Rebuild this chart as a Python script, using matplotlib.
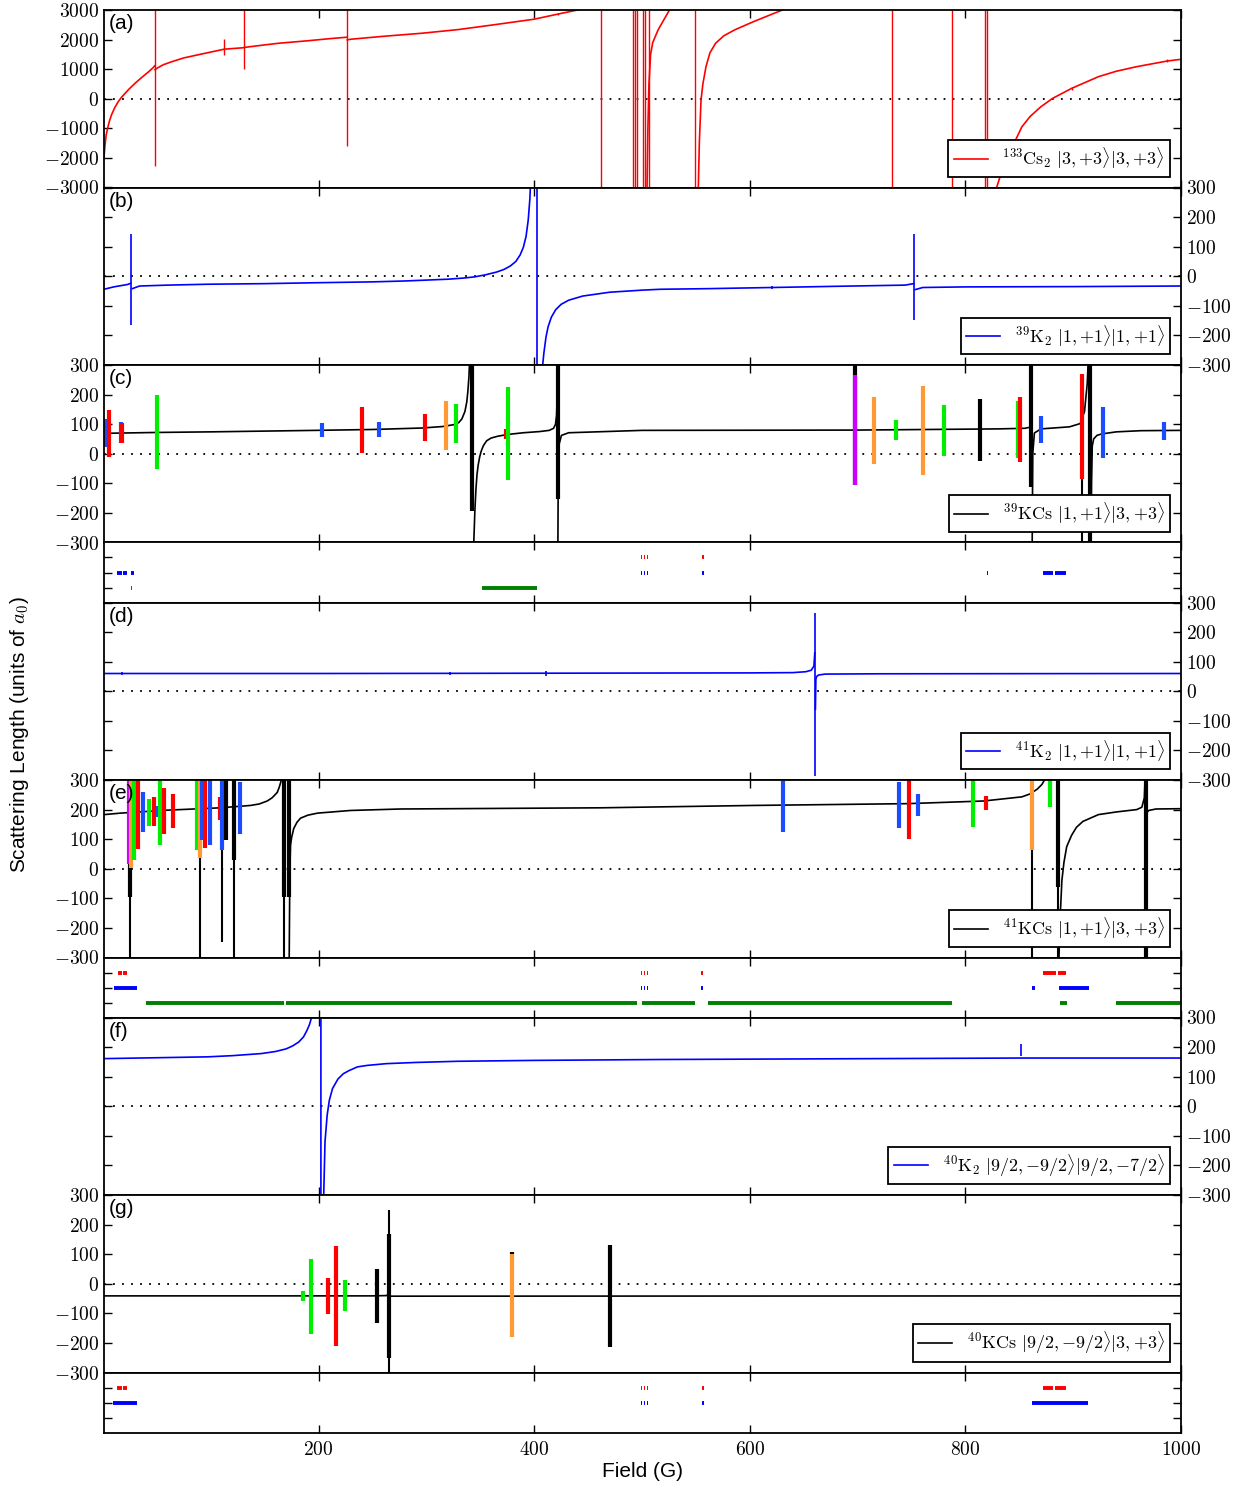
import numpy as np
import matplotlib
matplotlib.use("Agg")
import matplotlib.pyplot as plt
from matplotlib.ticker import FuncFormatter

plt.rcParams['font.family'] = ['Liberation Sans', 'DejaVu Sans']
plt.rcParams['mathtext.fontset'] = 'cm'
nan = np.nan

# %% Data (field in G, scattering length in a0)
# (a) 133Cs2
cs2_field = [1, 2, 3, 4.3, 6, 8, 11, 14, 17, 20, 24, 30, 36, 42, 46.8, 47.9,
             nan, 48.3, 50, 56, 64, 75, 90, 111.9, 112.3, 130.6, 131.2, 150, 163, 190, 210, 226.2,
             nan, 226.7, 229.7, 260, 296, 330, 362, 400, 421.8, 441, 450,
             nan, 504.5, 505.5, 506.5, 508, 510, 515, 520, 525.6, 530,
             nan, 552.3, 553.2, 554.8, 556.5, 559.4, 563, 568.3, 576, 586, 603.7, 620, 632.2, 640,
             nan, 829, 835, 843.5, 852.4, 860, 870, 880.8, 898.5, 923.4, 940, 959, 987.4, 1000]
cs2_a = [-1966, -1550, -1230, -1006, -760, -540, -300, -110, 40, 160, 320, 530, 720, 900, 1060, 1110,
         nan, 980, 1028, 1150, 1254, 1380, 1500, 1670, 1675, 1725, 1735, 1820, 1876, 1960, 2030, 2080,
         nan, 1990, 2011, 2110, 2215, 2340, 2497, 2689, 2860, 3006, 3100,
         nan, -3500, -1000, 500, 1500, 1900, 2330, 2650, 3006, 3300,
         nan, -3000, -1500, -45, 500, 1085, 1550, 1876, 2130, 2328, 2610, 2850, 3028, 3120,
         nan, -3000, -2300, -1627, -949, -600, -271, 11, 350, 746, 930, 1085, 1277, 1333]
cs2_spike_field = [48.1, 112.1, 131.0, 226.4, 421.8, 461.7, 491.9, 493.7, 495.5, 500.8, 502.5,
                   506.1, 548.8, 732.3, 787.7, 818.6, 820.4, 898.5, 987.4]
cs2_spike_lo = [-2271, 1480, 1006, -1605, 2830, -3000, -3000, -3000, -3000, -3000, -3000,
                -3000, -3000, -3000, -3000, -3000, -3000, 300, 1240]
cs2_spike_hi = [3000, 2011, 3000, 3000, 2900, 3000, 3000, 3000, 3000, 3000, 3000,
                3000, 3000, 3000, 3000, 3000, 3000, 400, 1330]

# (b) 39K2
k39_field = [1, 10, 22.6, 25.8, nan, 27.2, 34, 60, 97, 150, 196, 250, 280, 300, 320, 335, 345, 355,
             365, 372, 378, 383, 387, 390, 392.5, 394.5, 396, 397,
             nan, 406, 407.9, 409, 411, 413, 416, 420, 425, 432, 445, 470, 500, 517, 560, 621, 680,
             744, 752, nan, 753.6, 760.5, 800, 900, 1000]
k39_a = [-44, -36, -28, -24, nan, -42, -33, -30, -27, -25, -22, -19, -16, -13, -10, -6, -2, 5,
         14, 23, 35, 50, 72, 98, 135, 190, 260, 340,
         nan, -400, -300, -260, -205, -170, -138, -113, -95, -81, -67, -54, -47, -44, -42, -38, -34,
         -30, -25, nan, -45, -38, -36, -35, -33]
k39_spike_field = [26.5, 402.7, 752.8, 621]
k39_spike_lo = [-165, -300, -148, -42]
k39_spike_hi = [142, 300, 142, -34]

# (c) 39KCs
k39cs_field = [1, 50, 100, 196.6, 250, 296, 315, 325, 330, 333, 335.8, 337.5, 338.5, 339.5, 340.3, 341,
               nan, 343.2, 344, 345, 346, 347, 348, 349.5, 351, 353, 356, 360, 366, 375, 390, 405, 414,
               418, 419.8, 420.8, 421.4,
               nan, 421.9, 422.3, 423, 425.3, 432, 500, 697.7, 830, 855, 860.5,
               nan, 861.8, 862.5, 864, 870, 896.6, 906.5, 910.5, 913, 914,
               nan, 916.3, 917, 917.7, 919, 922, 926.4, 940, 963, 1000]
k39cs_a = [69, 72, 74, 79, 82, 87, 92, 98, 105, 118, 143, 175, 210, 260, 330, 500,
           nan, -400, -300, -194, -120, -70, -40, -10, 10, 28, 44, 53, 59, 65, 71, 75, 79,
           86, 100, 130, 200,
           nan, -400, -100, 30, 62, 71, 79, 80, 84, 86, 90,
           nan, -400, 0, 70, 84, 91, 102, 143, 236, 320,
           nan, -400, -100, 27, 50, 62, 67, 74, 78, 79]
k39cs_bar_field = [2.3, 6, 16.6, 18, 49.7, 203, 240.6, 256, 298.6, 318.5, 327.5, 342.4, 374, 375.4,
                   421.8, 697.7, 697.7, 715.3, 735.5, 760.6, 780, 813.7, 848.5, 850.5, 861.2, 870,
                   908, 915.8, 927.4, 984.4]
k39cs_bar_lo = [24, -10, 35, 38, -52, 56, 3, 58, 42, 13, 38, -194, 50, -90,
                -153, -107, -107, -35, 47, -72, -8, -26, -14, -29, -113, 38,
                -87, -310, -15, 48]
k39cs_bar_hi = [116, 149, 108, 105, 199, 105, 158, 108, 134, 178, 169, 310, 85, 227,
                310, 310, 265, 193, 114, 230, 166, 184, 178, 192, 310, 126,
                271, 310, 157, 108]
k39cs_bar_kind = ['b', 'r', 'b', 'r', 'g', 'b', 'r', 'b', 'r', 'o', 'g', 'k', 'r', 'g',
                  'k', 'k', 'm', 'o', 'g', 'o', 'g', 'k', 'g', 'r', 'k', 'b',
                  'r', 'k', 'b', 'b']
k39cs_thin_field = [908]
k39cs_thin_lo = [-310]
k39cs_thin_hi = [-87]

# strip under (c): rows red / blue / green, (start, end) in G
k39cs_red = [(499, 500), (502, 503), (505, 506), (556, 558)]
k39cs_blue = [(13.5, 18), (18.8, 22.5), (26, 28.5), (48.2, 48.7), (499, 500), (502, 503), (505, 506),
              (556, 558), (820, 820.6), (872.4, 881), (883.5, 893.3)]
k39cs_green = [(26, 26.6), (352, 402.7), (752.2, 752.8)]

# (d) 41K2
k41_field = [1, 100, 200, 322, 411, 500, 600, 640, 652, 657, 659.5, 660.3,
             nan, 660.9, 661.3, 662, 664, 670, 720, 858, 1000]
k41_a = [60, 60, 60, 60.5, 61, 61.5, 62, 63, 66, 71, 85, 130,
         nan, -60, 40, 50, 55, 58, 59, 59.5, 60]
k41_spike_field = [660.6, 18, 322, 411, 719, 858.5]
k41_spike_lo = [-287, 55, 56, 52, 57, 57]
k41_spike_hi = [265, 65, 64, 70, 63, 63]

# (e) 41KCs
k41cs_field = [1, 16.2, 59.6, 109, 137, 145, 152.4, 157, 161.7, 163.5, 165.4, 167,
               nan, 172.6, 173.2, 173.6, 174, 175, 177, 180, 183.3, 190, 199, 229.7, 276, 461.7,
               603.7, 745.7, 816.9, 852.4, 860, 866.6, 871, 874, 876,
               nan, 886, 887.9, 889.5, 891.4, 894, 898.5, 903, 909, 923.4, 940, 959, 963.7, 966, 966.8,
               nan, 967.5, 968.5, 970, 976.8, 1000]
k41cs_a = [183, 188, 198, 206, 214, 219, 229, 240, 258, 275, 298, 360,
           nan, -400, -100, 20, 79, 105, 136, 157, 171, 181, 188, 197, 202, 206,
           214, 220, 229, 243, 253, 269, 285, 304, 400,
           nan, -400, -164, -40, 21, 75, 113, 140, 160, 183, 192, 200, 208, 240, 320,
           nan, 150, 190, 197, 202, 203]
k41cs_bar_field = [25, 24.3, 26.2, 28.6, 32.7, 37, 43.2, 47.5, 50.9, 53.4, 56.6, 65.1,
                   87.4, 90.5, 91.7, 94.5, 99, 109, 110.3, 114, 121.4, 127, 168.4, 172.4,
                   630.5, 738, 747.6, 755.8, 807, 819, 862, 878.4, 885.5, 967.2]
k41cs_bar_lo = [-95, 17, 3, 30, 67, 125, 146, 146, 176, 81, 119, 139,
                64, 38, 96, 69, 79, 165, 65, 98, 30, 119, -95, -95,
                125, 139, 102, 177, 141, 198, 64, 209, -60, -310]
k41cs_bar_hi = [17, 310, 310, 310, 310, 258, 237, 243, 212, 310, 272, 254,
                310, 310, 310, 310, 310, 243, 310, 310, 310, 292, 310, 310,
                298, 292, 310, 254, 300, 246, 310, 310, 310, 310]
k41cs_bar_kind = ['k', 'm', 'o', 'g', 'r', 'b', 'g', 'r', 'b', 'g', 'r', 'r',
                  'g', 'o', 'b', 'r', 'b', 'r', 'b', 'k', 'k', 'b', 'k', 'k',
                  'b', 'b', 'r', 'b', 'g', 'r', 'o', 'g', 'k', 'k']
k41cs_thin_field = [25, 90.5, 110.3, 121.4, 168.4, 862, 885.5]
k41cs_thin_lo = [-310, -310, -248, -310, -310, -310, -310]
k41cs_thin_hi = [-95, 38, 65, 30, -95, 64, -60]

k41cs_red = [(14, 17.5), (18.8, 22.7), (48.8, 49.3), (499, 500), (502, 503), (505, 506), (555, 557),
             (819.6, 820.1), (872, 884), (885.5, 893.3)]
k41cs_blue = [(10.7, 31.7), (48.8, 49.3), (499, 500), (502, 503), (505, 506), (555, 557),
              (819.8, 820.3), (862, 865), (887.2, 914.5)]
k41cs_green = [(39.5, 167.5), (170, 495.5), (500, 548.8), (561.2, 787.7), (820.7, 821.3),
               (888, 894.3), (939.4, 1000)]

# (f) 40K2
k40_field = [1, 50, 97, 120, 146.8, 160, 170, 176, 181.6, 186, 189.2, 191.5, 193.2, 195, 202.1, 202.3,
             203.5, 204.8, 206, 208, 210, 213, 218, 223, 228, 236, 245, 262.8, 290, 329, 400, 517,
             851, 1000]
k40_a = [161, 164, 167, 171, 178, 185, 194, 204, 217, 234, 256, 275, 296, 340, 5000, -5000,
         -600, -300, -120, -30, 20, 60, 92, 110, 120, 133, 138, 144, 148, 152, 155, 158,
         163, 163]
k40_spike_field = [851.5]
k40_spike_lo = [170]
k40_spike_hi = [210]

# (g) 40KCs
k40cs_field = [1, 250, 263, 264.5, 265.5, 267, 1000]
k40cs_a = [-41, -41, -40, -36, -45, -42, -41]
k40cs_bar_field = [186, 192.6, 208.8, 216.4, 225, 254.6, 264.9, 379.9, 379.9, 470.6]
k40cs_bar_lo = [-58, -169, -101, -212, -93, -133, -250, 100, -179, -214]
k40cs_bar_hi = [-23, 85, 19, 129, 12, 50, 169, 107, 100, 131]
k40cs_bar_kind = ['g', 'g', 'r', 'r', 'g', 'k', 'k', 'k', 'o', 'k']
k40cs_thin_field = [264.9]
k40cs_thin_lo = [-310]
k40cs_thin_hi = [248]

k40cs_red = [(13.5, 17.5), (18.5, 22.5), (48.2, 48.7), (499, 500), (502, 503), (505, 506),
             (556, 557.5), (820, 820.5), (872.4, 881), (883.5, 893.3)]
k40cs_blue = [(9.3, 31.5), (48.2, 48.7), (499, 500), (502, 503), (505, 506), (555.5, 558),
              (820, 820.5), (861.7, 914)]

# %% Styles
bar_colors = {'b': '#1a4dff', 'r': '#ff0000', 'g': '#00ee00', 'o': '#ff9933',
              'm': '#cc00ff', 'k': 'black'}
W, H = 1247, 1485
left_px, right_px = 104, 1181


def make_ax(fig, top, height):
    ax = fig.add_axes([left_px / W, 1 - (top + height) / H, (right_px - left_px) / W, height / H])
    ax.set_xlim(1, 1000)
    ax.set_xticks([200, 400, 600, 800, 1000])
    ax.tick_params(direction='in', top=True, right=True, length=6, width=1,
                   labelbottom=False, labelsize=14)
    for s in ax.spines.values():
        s.set_linewidth(1.3)
    return ax


def setup_panel(ax, label, side, big=False):
    if big:
        ax.set_ylim(-3000, 3000)
        ax.set_yticks(range(-3000, 3001, 1000))
    else:
        ax.set_ylim(-300, 300)
        ax.set_yticks(range(-300, 301, 100))
    ax.yaxis.set_major_formatter(FuncFormatter(lambda v, p: r'$%d$' % v))
    if side == 'right':
        ax.tick_params(labelleft=False, labelright=True)
    ax.axhline(0, color='black', lw=1.3, ls=(0, (1, 4)), zorder=1)
    ax.text(0.004, 0.975, label, transform=ax.transAxes, ha='left', va='top', fontsize=15)


def add_legend(ax):
    leg = ax.legend(loc='lower right', fancybox=False, edgecolor='black', framealpha=1,
                    fontsize=13, handlelength=1.9, borderaxespad=0.6, borderpad=0.3)
    leg.get_frame().set_linewidth(1.3)


def draw_strip(ax, rows):
    ax.set_ylim(0, 4)
    ax.set_yticks([1, 2, 3])
    ax.set_yticklabels([])
    for y, segs, c in rows:
        for s, e in segs:
            ax.hlines(y, s, e, colors=c, lw=2.8)


fig = plt.figure(figsize=(W / 100, H / 100), dpi=100)
ph, sh = 177.5, 60

# (a)
ax = make_ax(fig, 10, ph)
ax.plot(cs2_field, cs2_a, color='red', lw=1.2,
        label=r'$^{133}\mathrm{Cs}_2\ |3,{+}3\rangle|3,{+}3\rangle$')
ax.vlines(cs2_spike_field, cs2_spike_lo, cs2_spike_hi, colors='red', lw=1.0)
setup_panel(ax, '(a)', 'left', big=True)
add_legend(ax)

# (b)
ax = make_ax(fig, 10 + ph, ph)
ax.plot(k39_field, k39_a, color='blue', lw=1.2,
        label=r'$^{39}\mathrm{K}_2\ |1,{+}1\rangle|1,{+}1\rangle$')
ax.vlines(k39_spike_field, k39_spike_lo, k39_spike_hi, colors='blue', lw=1.2)
setup_panel(ax, '(b)', 'right')
add_legend(ax)

# (c)
ax = make_ax(fig, 10 + 2 * ph, ph)
ax.plot(k39cs_field, k39cs_a, color='black', lw=1.2,
        label=r'$^{39}\mathrm{KCs}\ |1,{+}1\rangle|3,{+}3\rangle$')
ax.vlines(k39cs_thin_field, k39cs_thin_lo, k39cs_thin_hi, colors='black', lw=1.5)
ax.vlines(k39cs_bar_field, k39cs_bar_lo, k39cs_bar_hi,
          colors=[bar_colors[k] for k in k39cs_bar_kind], lw=3)
setup_panel(ax, '(c)', 'left')
add_legend(ax)

ax = make_ax(fig, 10 + 3 * ph, sh)
draw_strip(ax, [(3, k39cs_red, 'red'), (2, k39cs_blue, 'blue'), (1, k39cs_green, 'green')])

# (d)
ax = make_ax(fig, 10 + 3 * ph + sh, ph)
ax.plot(k41_field, k41_a, color='blue', lw=1.2,
        label=r'$^{41}\mathrm{K}_2\ |1,{+}1\rangle|1,{+}1\rangle$')
ax.vlines(k41_spike_field, k41_spike_lo, k41_spike_hi, colors='blue', lw=1.2)
setup_panel(ax, '(d)', 'right')
add_legend(ax)

# (e)
ax = make_ax(fig, 10 + 4 * ph + sh, ph)
ax.plot(k41cs_field, k41cs_a, color='black', lw=1.2,
        label=r'$^{41}\mathrm{KCs}\ |1,{+}1\rangle|3,{+}3\rangle$')
ax.vlines(k41cs_thin_field, k41cs_thin_lo, k41cs_thin_hi, colors='black', lw=1.5)
ax.vlines(k41cs_bar_field, k41cs_bar_lo, k41cs_bar_hi,
          colors=[bar_colors[k] for k in k41cs_bar_kind], lw=3)
setup_panel(ax, '(e)', 'left')
add_legend(ax)

ax = make_ax(fig, 10 + 5 * ph + sh, sh)
draw_strip(ax, [(3, k41cs_red, 'red'), (2, k41cs_blue, 'blue'), (1, k41cs_green, 'green')])

# (f)
ax = make_ax(fig, 10 + 5 * ph + 2 * sh, ph)
ax.plot(k40_field, k40_a, color='blue', lw=1.2,
        label=r'$^{40}\mathrm{K}_2\ |9/2,{-}9/2\rangle|9/2,{-}7/2\rangle$')
ax.vlines(k40_spike_field, k40_spike_lo, k40_spike_hi, colors='blue', lw=1.2)
setup_panel(ax, '(f)', 'right')
add_legend(ax)

# (g)
ax = make_ax(fig, 10 + 6 * ph + 2 * sh, ph)
ax.plot(k40cs_field, k40cs_a, color='black', lw=1.2,
        label=r'$^{40}\mathrm{KCs}\ |9/2,{-}9/2\rangle|3,{+}3\rangle$')
ax.vlines(k40cs_thin_field, k40cs_thin_lo, k40cs_thin_hi, colors='black', lw=1.5)
ax.vlines(k40cs_bar_field, k40cs_bar_lo, k40cs_bar_hi,
          colors=[bar_colors[k] for k in k40cs_bar_kind], lw=3)
setup_panel(ax, '(g)', 'left')
add_legend(ax)

ax = make_ax(fig, 10 + 7 * ph + 2 * sh, sh)
draw_strip(ax, [(3, k40cs_red, 'red'), (2, k40cs_blue, 'blue')])
ax.tick_params(labelbottom=True, pad=6)
ax.xaxis.set_major_formatter(FuncFormatter(lambda v, p: r'$%d$' % v))
ax.set_xlabel('Field (G)', fontsize=15, labelpad=2)

fig.text(20 / W, 1 - 735 / H, r'Scattering Length (units of $a_0$)', rotation=90,
         ha='center', va='center', fontsize=15)

fig.savefig('out.png', dpi=100)
